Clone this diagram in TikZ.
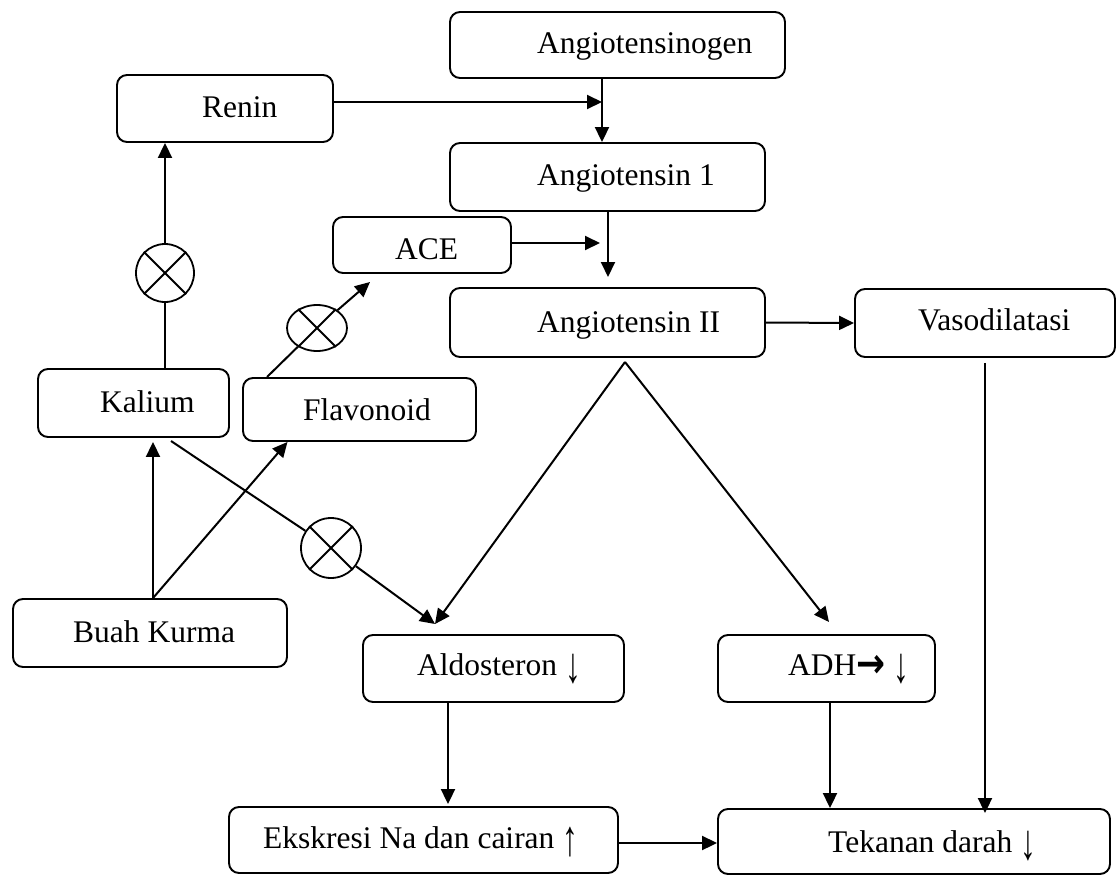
\documentclass[tikz,border=0pt]{standalone}
\usepackage{fontspec}
\setmainfont{Liberation Serif}
\newfontfamily\djv{DejaVu Sans}
\usetikzlibrary{shapes.geometric,arrows.meta}
\newcommand{\dnarrow}{\raisebox{-7pt}{\scalebox{1}[1.6]{↓}}}
\newcommand{\uparrowtxt}{\raisebox{-7pt}{\scalebox{1}[1.6]{↑}}}
\begin{document}
\begin{tikzpicture}[x=1pt,y=-1pt,
  box/.style={draw,rounded corners=10pt,line width=1.9pt,inner sep=0pt},
  txt/.style={inner sep=0pt,anchor=base west,font=\fontsize{31.5}{36}\selectfont},
  ln/.style={line width=2pt},
  arr/.style={line width=2pt,-{Triangle[length=15pt,width=14pt]}},
  xmark/.style={draw,line width=1.8pt,inner sep=0pt}]
\fill[white] (0,0) rectangle (1117,876);
\useasboundingbox (0,0) rectangle (1117,876);
% boxes
\node[box,minimum width=335pt,minimum height=66pt] (ango) at (617.5,45) {};
\node[box,minimum width=216pt,minimum height=67pt] (renin) at (225,108.5) {};
\node[box,minimum width=315pt,minimum height=68pt] (a1) at (607.5,177) {};
\node[box,minimum width=178pt,minimum height=56pt] (ace) at (422,245) {};
\node[box,minimum width=315pt,minimum height=69pt] (a2) at (607.5,322.5) {};
\node[box,minimum width=260pt,minimum height=68pt] (vaso) at (985,323) {};
\node[box,minimum width=191pt,minimum height=68pt] (kal) at (133.5,403) {};
\node[box,minimum width=233pt,minimum height=63pt] (flav) at (359.5,409.5) {};
\node[box,minimum width=274pt,minimum height=68pt] (buah) at (150,633) {};
\node[box,minimum width=261pt,minimum height=67pt] (aldo) at (493.5,668.5) {};
\node[box,minimum width=217pt,minimum height=67pt] (adh) at (826.5,668.5) {};
\node[box,minimum width=389pt,minimum height=66pt] (eks) at (423.5,840) {};
\node[box,minimum width=392pt,minimum height=65pt] (tek) at (914,841.5) {};
% texts
\node[txt] (ango-t) at (537,53) {Angiotensinogen};
\node[txt] (renin-t) at (202,117) {Renin};
\node[txt] (a1-t) at (537,185) {Angiotensin 1};
\node[txt] (ace-t) at (395,259) {ACE};
\node[txt] (a2-t) at (537,332) {Angiotensin II};
\node[txt] (vaso-t) at (918,330) {Vasodilatasi};
\node[txt] (kal-t) at (100,412) {Kalium};
\node[txt] (flav-t) at (303,420) {Flavonoid};
\node[txt] (buah-t) at (73,642) {Buah Kurma};
\node[txt] (aldo-t) at (417,675) {Aldosteron \dnarrow};
\node[txt] (adh-t) at (788,675) {ADH{\djv\bfseries\raisebox{-2pt}{\scalebox{1.1}[1.3]{→}}} \dnarrow};
\node[txt] (eks-t) at (263,848) {Ekskresi Na dan cairan \uparrowtxt};
\node[txt] (tek-t) at (828,852) {Tekanan darah \dnarrow};
% inhibition marks
\node[xmark,circle,minimum size=58pt] (x1) at (165,273) {};
\node[xmark,ellipse,minimum width=60pt,minimum height=46pt] (x2) at (317,328) {};
\node[xmark,circle,minimum size=60pt] (x3) at (331,548) {};
\foreach \m in {x1,x2,x3}{
  \draw[line width=1.8pt] (\m.45) -- (\m.225);
  \draw[line width=1.8pt] (\m.135) -- (\m.315);
}
% helper coordinates
\coordinate (j1) at (602,102);
\coordinate (j2) at (608,277);
\coordinate (j3) at (600,243);
\coordinate (f0) at (267,377);
\coordinate (t2) at (370,282);
\coordinate (k0) at (171,441);
\coordinate (t3) at (435,624);
\coordinate (v) at (625,362);
\coordinate (t4) at (829,622);
% connectors
\draw[arr] (ango.south -| j1) -- (a1.north -| j1);
\draw[arr] (renin.east |- j1) -- (j1);
\draw[arr] (a1.south -| j2) -- (j2);
\draw[arr] (ace.east |- j3) -- (j3);
\draw[arr] (a2.east) -- (vaso.west);
\draw[ln] (kal.north -| x1) -- (x1);
\draw[arr] (x1) -- (x1.north |- renin.south);
\draw[ln] (f0) -- (x2);
\draw[arr] (x2) -- (t2);
\draw[arr,shorten >=4pt] ([xshift=3pt]buah.north) -- ([xshift=3pt]buah.north |- kal.south);
\draw[arr] ([xshift=3pt]buah.north) -- ([xshift=-72pt]flav.south);
\draw[ln] (k0) -- (x3);
\draw[arr] (x3) -- (t3);
\draw[arr] (v) -- (t3);
\draw[arr] (v) -- (t4);
\draw[arr,shorten >=2pt] ([xshift=-45.5pt]aldo.south) -- ([xshift=-45.5pt]aldo.south |- eks.north);
\draw[arr] ([xshift=3.5pt]adh.south) -- ([xshift=3.5pt]adh.south |- tek.north);
\draw[arr] ([yshift=-5pt]vaso.south) -- ([yshift=-5pt]vaso.south |- tek.north);
\draw[arr] ([yshift=-3pt]eks.east) -- ([yshift=-3pt]eks.east -| tek.west);
\end{tikzpicture}
\end{document}
